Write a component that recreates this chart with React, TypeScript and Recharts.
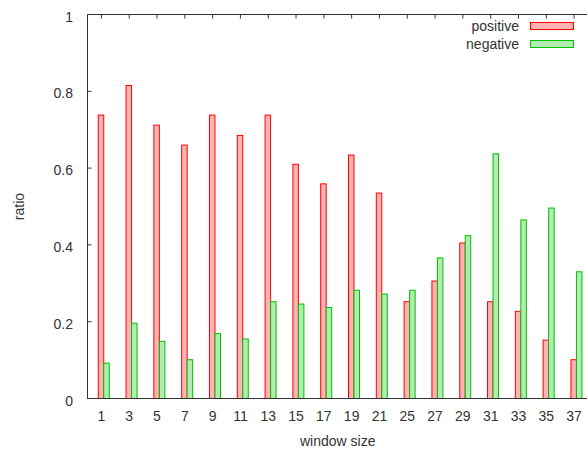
import React from 'react';
import { BarChart, Bar, XAxis, YAxis, Legend, ReferenceLine } from 'recharts';

// window sizes and the share of positive / negative outcomes for each
const windowSizes = ['1', '3', '5', '7', '9', '11', '13', '15', '17', '19', '21', '25', '27', '29', '31', '33', '35', '37'];
const positiveRatio = [0.738, 0.815, 0.712, 0.66, 0.738, 0.685, 0.738, 0.61, 0.559, 0.634, 0.535, 0.252, 0.306, 0.405, 0.252, 0.227, 0.152, 0.101];
const negativeRatio = [0.092, 0.196, 0.149, 0.101, 0.169, 0.155, 0.252, 0.246, 0.237, 0.282, 0.272, 0.282, 0.366, 0.424, 0.637, 0.465, 0.496, 0.33];
const ratioTicks = [0, 0.2, 0.4, 0.6, 0.8, 1];

const FONT = '"Liberation Sans", Arial, sans-serif';
const TEXT = '#333';
const AXIS = '#333';
const BAR_SIZE = 5.5;
const TICK_LEN = 4;
const PLOT_TOP = 14.5;

const RED_LINE = '#ff0000';
const RED_FILL = '#ffb3b3';
const GREEN_LINE = '#00c000';
const GREEN_FILL = '#b3ecb3';

const data = windowSizes.map((w, i) => ({
  window: w,
  positive: positiveRatio[i],
  negative: negativeRatio[i],
}));

// gnuplot-style clusters sit half a bar to the right of the tick
const OutlinedBar = (props: any) => {
  const { x, y, width, height, fill, stroke } = props;
  if (!height) return null;
  return (
    <rect
      x={x + BAR_SIZE / 2}
      y={y}
      width={width}
      height={height}
      fill={fill}
      stroke={stroke}
      strokeWidth={1}
    />
  );
};

// category label below the axis, mirrored inward tick hanging from the top border
const WindowTick = (props: any) => {
  const { x, y, payload } = props;
  return (
    <g>
      <line x1={x} x2={x} y1={PLOT_TOP} y2={PLOT_TOP + TICK_LEN} stroke={AXIS} />
      <text x={x} y={y + 10} textAnchor="middle" fill={TEXT} fontSize={14} fontFamily={FONT}>
        {payload.value}
      </text>
    </g>
  );
};

// value label plus an inward tick on the left border
const RatioTick = (props: any) => {
  const { x, y, payload } = props;
  return (
    <g>
      <line x1={x} x2={x + TICK_LEN} y1={y} y2={y} stroke={AXIS} />
      <text x={x - 14.5} y={y + 7} textAnchor="end" fill={TEXT} fontSize={14} fontFamily={FONT}>
        {String(payload.value)}
      </text>
    </g>
  );
};

const legendItems = [
  { label: 'positive', line: RED_LINE, fill: RED_FILL },
  { label: 'negative', line: GREEN_LINE, fill: GREEN_FILL },
];

const KeyBox = () => (
  <div style={{ fontFamily: FONT, fontSize: 14, color: TEXT }}>
    {legendItems.map((item) => (
      <div key={item.label} style={{ display: 'flex', alignItems: 'center', height: 18 }}>
        <span style={{ width: 79, textAlign: 'right', lineHeight: '18px' }}>{item.label}</span>
        <span
          style={{
            marginLeft: 11,
            width: 44,
            height: 8,
            boxSizing: 'border-box',
            background: item.fill,
            border: `1px solid ${item.line}`,
          }}
        />
      </div>
    ))}
  </div>
);

export default function App() {
  return (
    <div style={{ position: 'fixed', left: 0, top: 0, width: 587, height: 452, overflow: 'hidden', background: '#fff' }}>
      <BarChart
        width={600}
        height={452}
        data={data}
        margin={{ top: PLOT_TOP, right: 12, bottom: 0, left: 0 }}
        barGap={0}
        barSize={BAR_SIZE}
      >
        <XAxis
          dataKey="window"
          height={53.5}
          tickLine={false}
          tickSize={0}
          tickMargin={12}
          axisLine={{ stroke: AXIS }}
          tick={<WindowTick />}
          interval={0}
          label={{ value: 'window size', position: 'insideBottom', offset: 6, fill: TEXT, fontSize: 14, fontFamily: FONT }}
        />
        <YAxis
          width={87.5}
          domain={[0, 1]}
          ticks={ratioTicks}
          tickSize={0}
          tickMargin={0}
          tickLine={false}
          axisLine={{ stroke: AXIS }}
          tick={<RatioTick />}
          label={{ value: 'ratio', angle: -90, position: 'insideLeft', offset: 19, fill: TEXT, fontSize: 14, fontFamily: FONT, style: { textAnchor: 'middle' } }}
        />
        <ReferenceLine y={1} stroke={AXIS} />
        <Legend
          layout="horizontal"
          verticalAlign="middle"
          align="center"
          content={<KeyBox />}
          wrapperStyle={{ position: 'absolute', left: 440, top: 17, width: 134, height: 36 }}
        />
        <Bar dataKey="positive" fill={RED_FILL} stroke={RED_LINE} shape={<OutlinedBar />} isAnimationActive={false} />
        <Bar dataKey="negative" fill={GREEN_FILL} stroke={GREEN_LINE} shape={<OutlinedBar />} isAnimationActive={false} />
      </BarChart>
    </div>
  );
}
